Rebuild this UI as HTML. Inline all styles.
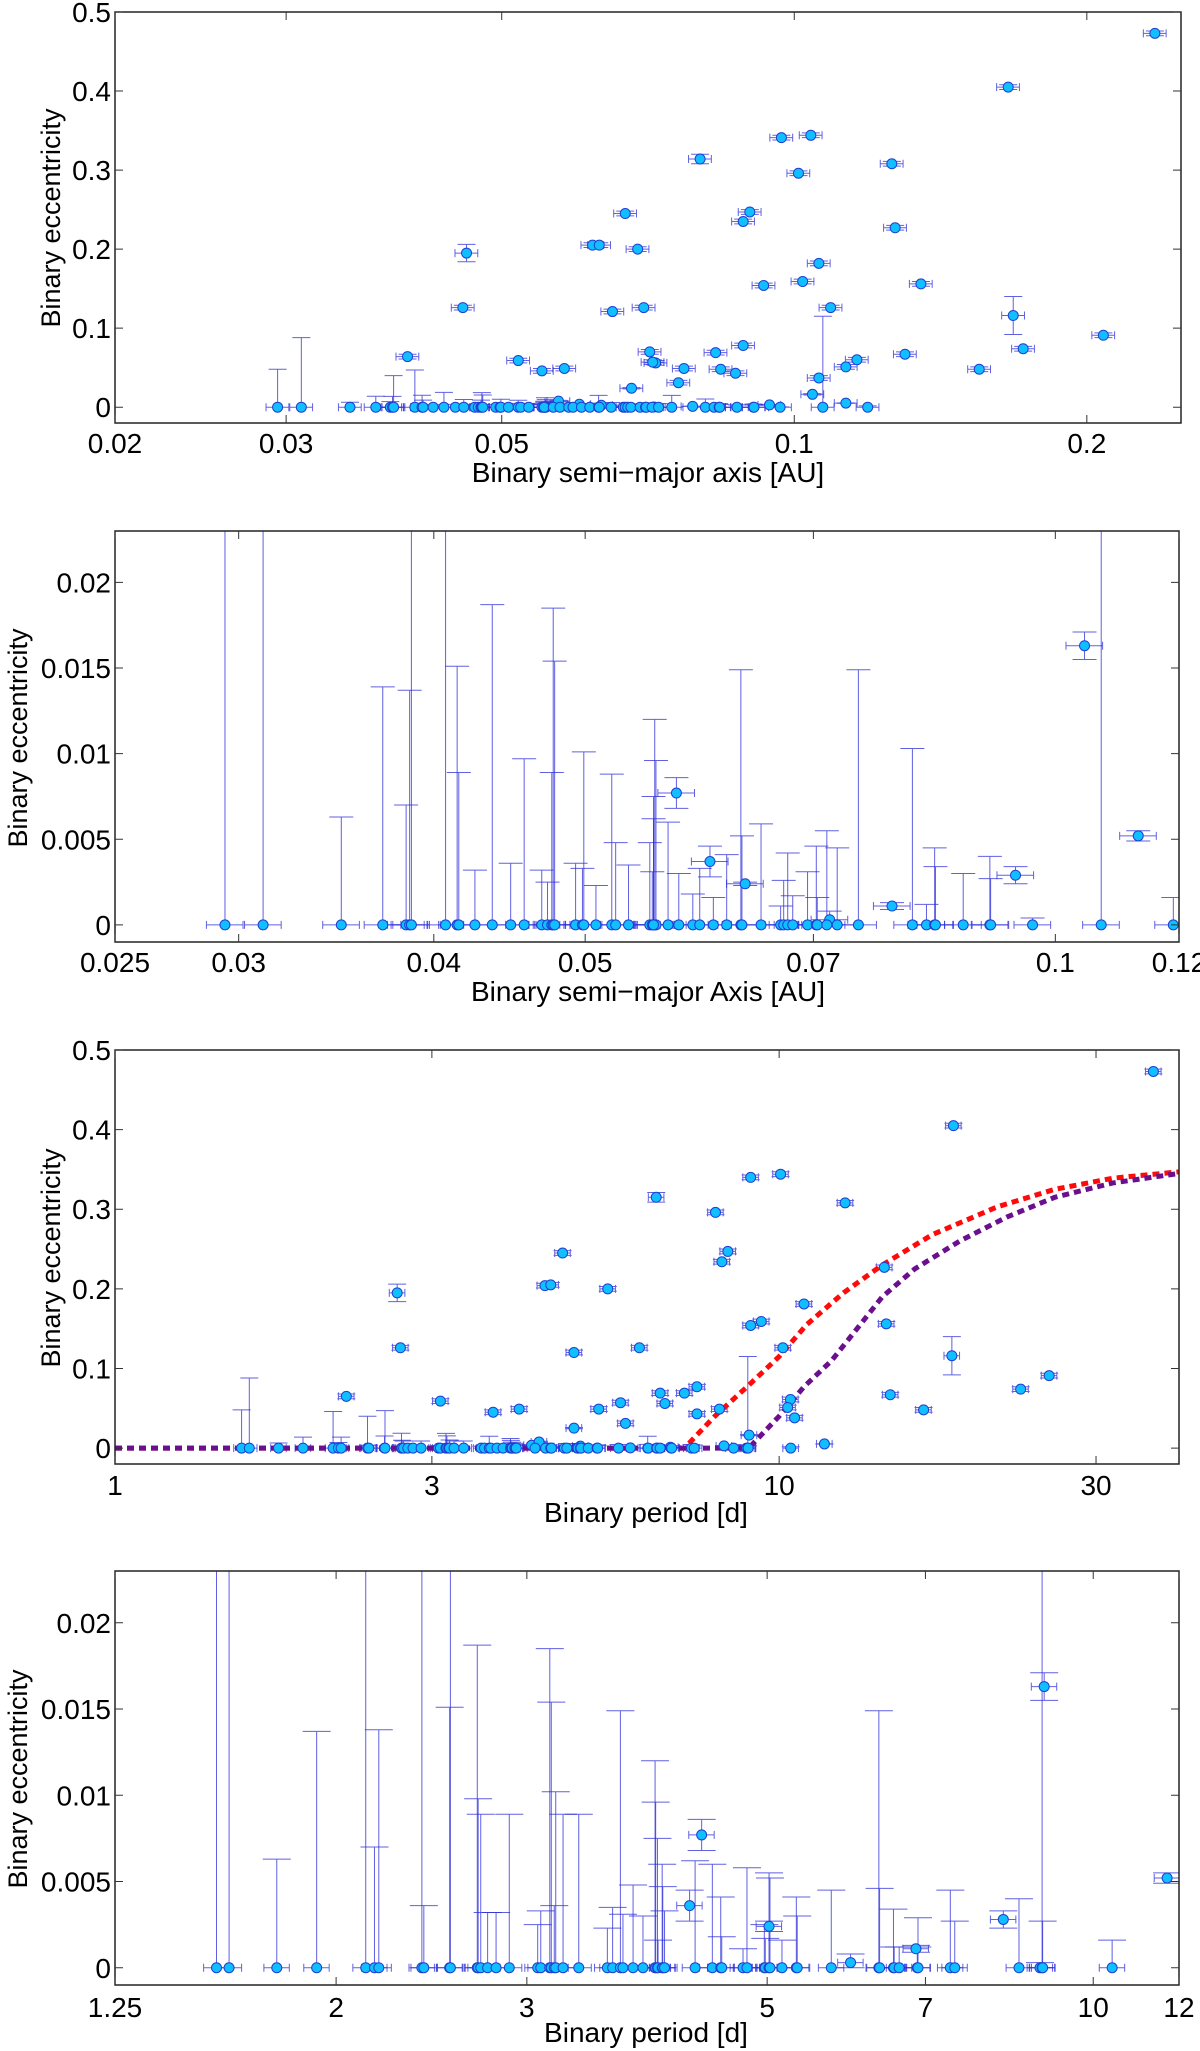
<!DOCTYPE html>
<html><head><meta charset="utf-8"><style>
html,body{margin:0;padding:0;background:#fff;}
svg{display:block;}
text{font-family:"Liberation Sans",sans-serif;fill:#000;}
</style></head>
<body>
<svg id="fig" width="1200" height="2051" viewBox="0 0 1200 2051" xmlns="http://www.w3.org/2000/svg"></svg>
<script>
// ---- semi-major axis dataset ----
const semiA = [0.235,0.166,0.097,0.104,0.080,0.126,0.101,0.067,0.090,0.0886,0.127,0.062,0.063,0.069,0.046,0.106,0.102,0.093,0.135,0.0456,0.070,0.065,0.109,0.168,0.208,0.040,0.0886,0.071,0.083,0.130,0.172,0.052,0.116,0.072,0.0715,0.058,0.055,0.077,0.084,0.113,0.155,0.087,0.106,0.076,0.068,0.1044,0.113,0.0572,0.0601,0.0633,0.0717,0.0786,0.0943,
0.0294,0.0311,0.0349,0.0371,0.0384,0.0386,0.0387,0.0407,0.0414,0.0415,0.0425,0.0436,0.0448,0.0457,0.0469,0.0473,0.0476,0.0477,0.0478,0.0493,0.0498,0.0499,0.0508,0.0520,0.0523,0.0533,0.0550,0.0552,0.0553,0.0554,0.0555,0.0553,0.0565,0.0574,0.0586,0.0592,0.0604,0.0616,0.0629,0.0630,0.0648,0.0667,0.0670,0.0674,0.0679,0.0694,0.0703,0.0704,0.0714,0.0725,0.0748,0.0810,0.0827,0.0837,0.0838,0.0873,0.0908,0.0909,0.0967,0.107,0.119];
const semiE = [0.473,0.405,0.341,0.344,0.314,0.308,0.296,0.245,0.247,0.235,0.227,0.205,0.205,0.200,0.195,0.182,0.159,0.154,0.156,0.126,0.126,0.121,0.126,0.116,0.091,0.064,0.078,0.070,0.069,0.067,0.074,0.059,0.060,0.056,0.057,0.049,0.046,0.049,0.048,0.051,0.048,0.043,0.037,0.031,0.024,0.0163,0.0052,0.0077,0.0037,0.0024,0.0003,0.0011,0.0029,
0,0,0,0,0,0,0,0,0,0,0,0,0,0,0,0,0,0,0,0,0,0,0,0,0,0,0,0,0,0,0,0,0,0,0,0,0,0,0,0,0,0,0,0,0,0,0,0,0,0,0,0,0,0,0,0,0,0,0,0,0];
const semiUp = [0.003,0.003,0.003,0.003,0.006,0.003,0.003,0.003,0.003,0.003,0.003,0.003,0.003,0.003,0.011,0.003,0.003,0.003,0.003,0.003,0.003,0.003,0.003,0.024,0.003,0.003,0.003,0.003,0.003,0.003,0.003,0.003,0.003,0.003,0.003,0.003,0.003,0.003,0.003,0.003,0.003,0.003,0.003,0.003,0.0008,0.0008,0.0003,0.0009,0.0009,0.0001,0.0005,0.0002,0.0005,
0.048,0.088,0.0063,0.0139,0.0070,0.0137,0.040,0.047,0.0151,0.0089,0.0032,0.0187,0.0036,0.0097,0.0032,0.0025,0.0089,0.0185,0.0154,0.0036,0.0033,0.0101,0.0023,0.0088,0.0048,0.0035,0.0048,0.0031,0.0075,0.0120,0.0096,0.0062,0.0060,0.0030,0.0018,0.0033,0.0016,0.0041,0.0149,0.0052,0.0059,0.0011,0.0026,0.0042,0.0017,0.0031,0.0046,0.0016,0.0055,0.0045,0.0149,0.0103,0.0012,0.0045,0.0034,0.0030,0.0040,0.0027,0.0004,0.115,0.0016];

// ---- period dataset ----
const perP = [36.6,18.3,9.06,10.05,6.53,12.57,8.02,4.72,8.37,8.2,14.4,4.44,4.53,5.52,2.66,10.9,9.4,9.06,14.5,2.69,6.16,4.91,10.13,18.2,25.5,2.23,7.52,6.62,7.2,14.7,23.1,3.09,10.4,5.77,6.73,4.06,5.35,8.13,10.3,16.5,3.71,7.52,10.55,5.87,4.91,9.01,11.7,4.24,4.35,5.02,5.97,6.86,8.26,
1.551,1.593,1.763,1.919,2.13,2.17,2.19,2.40,2.41,2.546,2.55,2.70,2.705,2.72,2.76,2.81,2.89,3.07,3.09,3.15,3.16,3.18,3.19,3.24,3.35,3.56,3.60,3.66,3.68,3.76,3.84,3.94,3.945,3.96,3.965,4.00,4.005,4.02,4.29,4.45,4.53,4.54,4.75,4.79,4.97,4.98,5.02,5.03,5.16,5.32,5.33,5.73,6.34,6.35,6.54,6.55,6.62,6.88,6.89,7.38,7.45,8.54,8.93,8.97,8.98,10.41];
const perE = [0.473,0.405,0.340,0.344,0.315,0.308,0.296,0.245,0.247,0.234,0.227,0.204,0.205,0.200,0.195,0.181,0.159,0.154,0.156,0.126,0.126,0.120,0.126,0.116,0.091,0.065,0.077,0.069,0.069,0.067,0.074,0.059,0.061,0.057,0.056,0.049,0.049,0.049,0.051,0.048,0.045,0.043,0.038,0.031,0.025,0.0163,0.0052,0.0036,0.0077,0.0024,0.0003,0.0011,0.0028,
0,0,0,0,0,0,0,0,0,0,0,0,0,0,0,0,0,0,0,0,0,0,0,0,0,0,0,0,0,0,0,0,0,0,0,0,0,0,0,0,0,0,0,0,0,0,0,0,0,0,0,0,0,0,0,0,0,0,0,0,0,0,0,0,0,0];
const perUp = [0.003,0.003,0.003,0.003,0.006,0.003,0.003,0.003,0.003,0.003,0.003,0.003,0.003,0.003,0.011,0.003,0.003,0.003,0.003,0.003,0.003,0.003,0.003,0.024,0.003,0.003,0.003,0.003,0.003,0.003,0.003,0.003,0.003,0.003,0.003,0.003,0.003,0.003,0.003,0.003,0.003,0.003,0.003,0.003,0.0008,0.0008,0.0003,0.0009,0.0009,0.0003,0.0005,0.0002,0.0005,
0.048,0.088,0.0063,0.0137,0.046,0.0070,0.0138,0.040,0.0036,0.0151,0.047,0.0187,0.0098,0.0089,0.0032,0.0032,0.0089,0.0025,0.0033,0.0185,0.0154,0.0036,0.0102,0.0089,0.0089,0.0023,0.0035,0.0149,0.0031,0.0048,0.0030,0.0120,0.0096,0.0075,0.0016,0.0060,0.0047,0.0033,0.0062,0.0060,0.0041,0.0018,0.0011,0.0058,0.0025,0.0017,0.0055,0.0052,0.0016,0.0041,0.0030,0.0045,0.0149,0.0046,0.0034,0.0012,0.0012,0.0012,0.0029,0.0045,0.0027,0.0040,0.0003,0.115,0.0027,0.0016];

// ---- model curves (panel 3) ----
const redP = [1,7.2,8,9,10,11,12.5,14.3,17,21.3,26,31.8,40];
const redE = [0,0,0.04,0.079,0.115,0.155,0.195,0.23,0.268,0.303,0.325,0.339,0.347];
const purpleP = [1,9,10,10.9,12,14.3,16,18.7,22,26,31.8,40];
const purpleE = [0,0,0.04,0.077,0.11,0.19,0.225,0.26,0.29,0.315,0.333,0.345];

// ---- ticks ----
const ticks1X = [0.02,0.03,0.05,0.1,0.2];
const labels1X = ["0.02","0.03","0.05","0.1","0.2"];
const ticksBigY = [0,0.1,0.2,0.3,0.4,0.5];
const labelsBigY = ["0","0.1","0.2","0.3","0.4","0.5"];
const ticks2X = [0.025,0.03,0.04,0.05,0.07,0.1,0.12];
const labels2X = ["0.025","0.03","0.04","0.05","0.07","0.1","0.12"];
const ticksSmallY = [0,0.005,0.01,0.015,0.02];
const labelsSmallY = ["0","0.005","0.01","0.015","0.02"];
const ticks3X = [1,3,10,30];
const labels3X = ["1","3","10","30"];
const ticks4X = [1.25,2,3,5,7,10,12];
const labels4X = ["1.25","2","3","5","7","10","12"];

const NS = "http://www.w3.org/2000/svg";
const fig = document.getElementById('fig');
function mk(parent, tag, attrs){
  const el = document.createElementNS(NS, tag);
  for (const k in attrs) el.setAttribute(k, attrs[k]);
  parent.appendChild(el);
  return el;
}
const XFRAC = 0.027;

function panel(id, cfg, X, E, Up){
  const g = mk(fig, 'g', {});
  
  
  const lx0 = Math.log(cfg.xmin), lx1 = Math.log(cfg.xmax);
  const xs = v => cfg.x0 + (Math.log(v) - lx0) / (lx1 - lx0) * (cfg.x1 - cfg.x0);
  const ys = v => cfg.yb - (v - cfg.ymin) / (cfg.ymax - cfg.ymin) * (cfg.yb - cfg.yt);
  const cp = mk(g, 'clipPath', {id: id + '-clip'});
  mk(cp, 'rect', {x: cfg.x0, y: cfg.yt, width: cfg.x1 - cfg.x0, height: cfg.yb - cfg.yt});
  const plot = mk(g, 'g', {'clip-path': 'url(#' + id + '-clip)'});
  
  
  const ch = cfg.cap;
  for (let i = 0; i < X.length; i++) {
    const cx = xs(X[i]), cy = ys(E[i]);
    const lo = Math.max(E[i] - (E[i] > 0 ? Up[i] : 0), 0);
    const yu = ys(E[i] + Up[i]), yl = ys(lo);
    const eb = mk(plot, 'path', {
      d: 'M' + cx + ' ' + yl + 'V' + yu + 'M' + (cx - ch) + ' ' + yu + 'H' + (cx + ch) +
         (E[i] > 0 ? 'M' + (cx - ch) + ' ' + yl + 'H' + (cx + ch) : '') +
         'M' + xs(X[i] * (1 - XFRAC)) + ' ' + cy + 'H' + xs(X[i] * (1 + XFRAC)) +
         'M' + xs(X[i] * (1 - XFRAC)) + ' ' + (cy - 4) + 'V' + (cy + 4) +
         'M' + xs(X[i] * (1 + XFRAC)) + ' ' + (cy - 4) + 'V' + (cy + 4),
      stroke: '#2b2bd8', 'stroke-width': 1, fill: 'none', 'stroke-opacity': 0.75
    });
    
    
  }
  if (cfg.curves) {
    [[redP, redE, '#ff0a0a', 'red-model-curve'], [purpleP, purpleE, '#6a0f8e', 'purple-model-curve']].forEach(c => {
      let d = '';
      for (let i = 0; i < c[0].length; i++) d += (i ? 'L' : 'M') + xs(c[0][i]) + ' ' + ys(c[1][i]);
      const p = mk(plot, 'path', {d: d, stroke: c[2], 'stroke-width': 5, fill: 'none', 'stroke-dasharray': '7 5'});
      
      
    });
  }
  for (let i = 0; i < X.length; i++) {
    const m = mk(plot, 'circle', {cx: xs(X[i]), cy: ys(E[i]), r: 5, fill: '#0fbfff', stroke: '#1f3fd0', 'stroke-width': 1});
    
    
  }
  const fr = mk(g, 'rect', {x: cfg.x0, y: cfg.yt, width: cfg.x1 - cfg.x0, height: cfg.yb - cfg.yt, fill: 'none', stroke: '#222', 'stroke-width': 1.5});
  
  
  cfg.xt.forEach((t, i) => {
    const x = xs(t);
    const tk = mk(g, 'path', {d: 'M' + x + ' ' + cfg.yb + 'v-8M' + x + ' ' + cfg.yt + 'v8', stroke: '#333', 'stroke-width': 1});
    
    
    const tx = mk(g, 'text', {x: x, y: cfg.xlabY, 'font-size': 28, 'text-anchor': 'middle'});
    tx.textContent = cfg.xl[i];
    
    
  });
  cfg.yt2.forEach((t, i) => {
    const y = ys(t);
    const tk = mk(g, 'path', {d: 'M' + cfg.x0 + ' ' + y + 'h8M' + cfg.x1 + ' ' + y + 'h-8', stroke: '#333', 'stroke-width': 1});
    
    
    const tx = mk(g, 'text', {x: cfg.x0 - 4, y: y + 10, 'font-size': 28, 'text-anchor': 'end'});
    tx.textContent = cfg.yl[i];
    
    
  });
  const xt = mk(g, 'text', {x: cfg.xtX, y: cfg.xtY, 'font-size': 28, 'text-anchor': 'middle'});
  xt.textContent = cfg.xtitle;
  
  
  const yt = mk(g, 'text', {x: 0, y: 0, 'font-size': 27, 'text-anchor': 'middle', transform: 'translate(' + cfg.ytX + ',' + cfg.ytY + ') rotate(-90)'});
  yt.textContent = 'Binary eccentricity';
  
  
}

panel('panel-semimajor-full', {x0:115,x1:1181,yt:12,yb:423,xmin:0.02,xmax:0.25,ymin:-0.02,ymax:0.5,cap:9,
  xt:ticks1X,xl:labels1X,yt2:ticksBigY,yl:labelsBigY,xlabY:453,xtitle:'Binary semi\u2212major axis [AU]',xtX:648,xtY:482,ytX:60,ytY:218}, semiA, semiE, semiUp);
panel('panel-semimajor-zoom', {x0:115,x1:1179,yt:531,yb:942,xmin:0.025,xmax:0.12,ymin:-0.001,ymax:0.023,cap:12,
  xt:ticks2X,xl:labels2X,yt2:ticksSmallY,yl:labelsSmallY,xlabY:972,xtitle:'Binary semi\u2212major Axis [AU]',xtX:648,xtY:1001,ytX:27,ytY:738}, semiA, semiE, semiUp);
panel('panel-period-full', {x0:115,x1:1179,yt:1050,yb:1464,xmin:1,xmax:40,ymin:-0.02,ymax:0.5,cap:9,curves:true,
  xt:ticks3X,xl:labels3X,yt2:ticksBigY,yl:labelsBigY,xlabY:1495,xtitle:'Binary period [d]',xtX:646,xtY:1522,ytX:60,ytY:1258}, perP, perE, perUp);
panel('panel-period-zoom', {x0:115,x1:1179,yt:1571,yb:1985,xmin:1.25,xmax:12,ymin:-0.001,ymax:0.023,cap:14,
  xt:ticks4X,xl:labels4X,yt2:ticksSmallY,yl:labelsSmallY,xlabY:2017,xtitle:'Binary period [d]',xtX:646,xtY:2042,ytX:27,ytY:1779}, perP, perE, perUp);
</script>
</body></html>
